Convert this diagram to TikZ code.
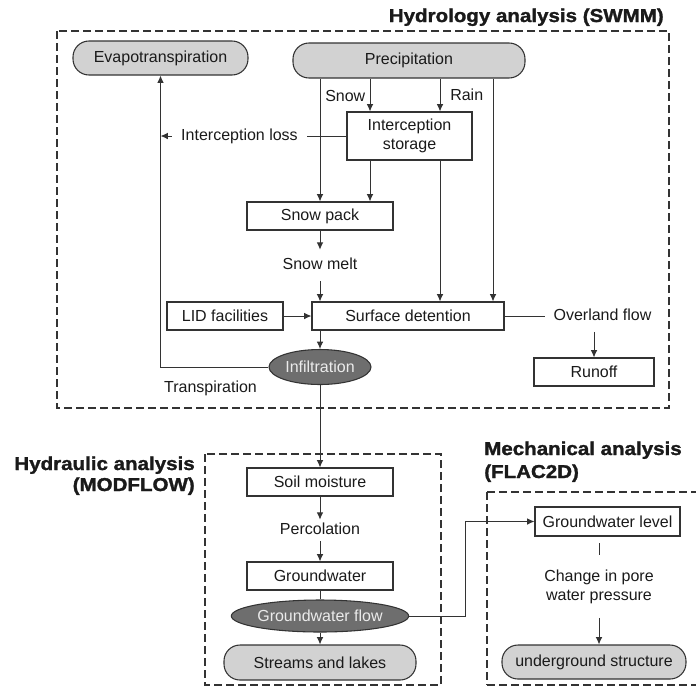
\documentclass[tikz,border=0pt]{standalone}
\usepackage{fontspec}
\setmainfont{Liberation Sans}
\newfontfamily\heavyfont[FakeBold=1.4]{Liberation Sans Bold}
\usepackage{graphicx}
\usetikzlibrary{shapes.geometric,arrows.meta,calc}
\definecolor{lnc}{HTML}{333333}
\definecolor{lg}{HTML}{D2D2D2}
\definecolor{dg}{HTML}{6E6E6E}
\definecolor{tx}{HTML}{1A1A1A}
\newcommand\ttl[1]{\scalebox{1.10}[1]{\fontsize{14pt}{17pt}\heavyfont #1}}
\begin{document}
\begin{tikzpicture}[x=0.75pt,y=-0.75pt, font=\fontsize{12pt}{14.4pt}\selectfont, text=tx,
 box/.style={draw=lnc, line width=0.8pt, fill=white, inner sep=0pt, minimum height=21pt, align=center},
 pill/.style={draw=lnc, line width=0.8pt, fill=lg, rounded corners=12pt, inner sep=0pt, align=center},
 ell/.style={ellipse, draw=lnc, line width=0.8pt, fill=dg, text=white!92!black, inner sep=0pt},
 lab/.style={inner xsep=6pt, inner ysep=2pt, text height=9pt, text depth=2.5pt},
 arr/.style={draw=lnc, line width=0.75pt, -{Latex[length=5.5pt,width=5pt]}},
 wire/.style={draw=lnc, line width=0.75pt},
 zone/.style={draw=lnc, line width=0.8pt, dash pattern=on 6pt off 3pt},
 ttlnode/.style={inner sep=0pt}]
\useasboundingbox (0,0) rectangle (696,687);
% zones
\draw[zone] (57,31) rectangle (669,408);
\draw[zone] (205,454) rectangle (441,685);
\draw[zone] (487,492) -- (696,492);
\draw[zone] (487,492) -- (487,685);
\draw[zone] (487,685) -- (696,685);
% titles
\node[ttlnode, anchor=base east] (t1) at (664,22) {\ttl{Hydrology analysis (SWMM)}};
\node[ttlnode, anchor=base east] (t2a) at (195,470) {\ttl{Hydraulic analysis}};
\node[ttlnode, anchor=base east] (t2b) at (195,491) {\ttl{(MODFLOW)}};
\node[ttlnode, anchor=base west] (t3a) at (484,455) {\ttl{Mechanical analysis}};
\node[ttlnode, anchor=base west] (t3b) at (484,478) {\ttl{(FLAC2D)}};
% hydrology nodes
\node[pill, minimum width=131.25pt, minimum height=25.5pt] (evap) at (160.5,58) {Evapotranspiration};
\node[pill, minimum width=174pt, minimum height=26.25pt] (precip) at (409,60.5) {Precipitation};
\node[box, minimum width=93.75pt, minimum height=36pt] (istor) at (409.5,136) {Interception\\storage};
\node[box, minimum width=109.5pt] (snowpack) at (320,216) {Snow pack};
\node[lab, inner ysep=5.9pt] (snowmelt) at (320,265.5) {Snow melt};
\node[box, minimum width=144pt] (surfdet) at (408,316) {Surface detention};
\node[box, minimum width=87pt] (lid) at (225,316) {LID facilities};
\node[lab, inner xsep=6.5pt, inner ysep=6pt] (overland) at (602.5,316) {Overland flow};
\node[box, minimum width=90pt] (runoff) at (594,372) {Runoff};
\node[ell, minimum width=76.5pt, minimum height=26.25pt] (infil) at (320,367) {Infiltration};
\node[lab] (transp) at (210.5,388) {Transpiration};
\node[lab, inner xsep=7pt] (iloss) at (239.5,136) {Interception loss};
\node[lab, anchor=west, inner xsep=0pt] (snow) at (325,97) {Snow};
\node[lab, anchor=west, inner xsep=0pt] (rain) at (450,96) {Rain};
% hydraulic nodes
\node[box, minimum width=109.5pt] (soil) at (320,482) {Soil moisture};
\node[lab, inner ysep=2.2pt] (perc) at (320,530.5) {Percolation};
\node[box, minimum width=109.5pt] (gw) at (320,576) {Groundwater};
\node[ell, minimum width=112.5pt, minimum height=24pt] (gwflow) at (320,616) {Groundwater flow};
\node[pill, minimum width=144pt, minimum height=26.25pt] (streams) at (320,662.5) {Streams and lakes};
% mechanical nodes
\node[box, minimum width=108.75pt, minimum height=21.75pt] (gwlevel) at (607.5,521.5) {Groundwater level};
\node[align=center, inner xsep=2pt, inner ysep=10.6pt] (change) at (599,586.5) {Change in pore\\water pressure};
\node[pill, minimum width=138pt, minimum height=25.5pt] (under) at (594,662) {underground structure};
\coordinate (c1) at (599,543);
% helper x positions
\coordinate (xa) at (370,0);
\coordinate (xb) at (440,0);
\coordinate (xc) at (493,0);
\coordinate (bend) at (465,0);
% connectors
\draw[arr] (precip.south -| snowpack.north) -- (snowpack.north);
\draw[arr] (precip.south -| xa) -- (istor.north -| xa);
\draw[arr] (precip.south -| xb) -- (istor.north -| xb);
\draw[arr] (precip.south -| xc) -- (surfdet.north -| xc);
\draw[arr] (istor.south -| xa) -- (snowpack.north -| xa);
\draw[arr] (istor.south -| xb) -- (surfdet.north -| xb);
\draw[wire] (istor.west) -- (iloss.east);
\draw[arr] (iloss.west) -- (iloss.west -| evap.south);
\draw[arr] (snowpack.south) -- (snowmelt.north);
\draw[arr] (snowmelt.south) -- (snowmelt.south |- surfdet.north);
\draw[arr] (lid.east) -- (surfdet.west);
\draw[wire] (surfdet.east) -- (overland.west);
\draw[arr] (runoff.north |- overland.south) -- (runoff.north);
\draw[arr] (infil.north |- surfdet.south) -- (infil.north);
\draw[arr] (infil.west) -| (evap.south);
\draw[arr] (infil.south) -- (soil.north);
\draw[arr] (soil.south) -- (perc.north);
\draw[arr] (perc.south) -- (gw.north);
\draw[wire] (gw.south) -- (gwflow.north);
\draw[arr] (gwflow.south) -- (streams.north);
\draw[arr] (gwflow.east) -- (gwflow.east -| bend) |- (gwlevel.west);
\draw[wire] (c1) -- (change.north);
\draw[arr] (change.south) -- (change.south |- under.north);
\end{tikzpicture}
\end{document}
